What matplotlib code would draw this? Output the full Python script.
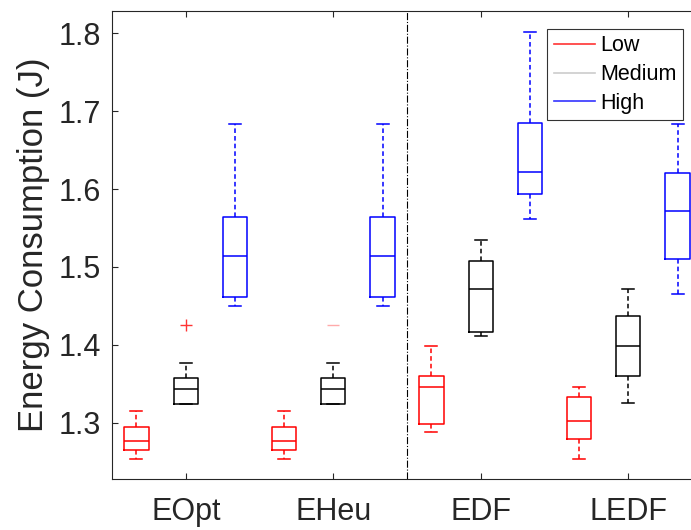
import matplotlib.pyplot as plt
from matplotlib.lines import Line2D

plt.rcParams['font.family'] = ['Liberation Sans', 'DejaVu Sans']

# data
algorithms = ['EOpt', 'EHeu', 'EDF', 'LEDF']
levels = ['Low', 'Medium', 'High']
level_colors = ['#ff0000', '#000000', '#0000ff']
legend_colors = ['#ff3333', '#cccccc', '#3333ff']

# (whislo, q1, med, q3, whishi) per algorithm
low_stats = [
    (1.254, 1.265, 1.277, 1.295, 1.315),
    (1.254, 1.265, 1.277, 1.295, 1.315),
    (1.288, 1.298, 1.346, 1.360, 1.398),
    (1.254, 1.279, 1.302, 1.333, 1.346),
]
medium_stats = [
    (1.324, 1.324, 1.343, 1.358, 1.377),
    (1.324, 1.324, 1.343, 1.358, 1.377),
    (1.411, 1.416, 1.472, 1.508, 1.534),
    (1.325, 1.360, 1.398, 1.437, 1.472),
]
high_stats = [
    (1.450, 1.461, 1.514, 1.564, 1.683),
    (1.450, 1.461, 1.514, 1.564, 1.683),
    (1.562, 1.594, 1.622, 1.685, 1.802),
    (1.465, 1.510, 1.572, 1.621, 1.683),
]
medium_outliers = [[1.426], [1.426], [], []]

fig = plt.figure(figsize=(6.91, 5.3), dpi=100)
ax = fig.add_axes([112 / 691, (530 - 479.3) / 530, 590 / 691, 468.3 / 530])

offsets = [-0.335, 0.0, 0.335]
all_stats = [low_stats, medium_stats, high_stats]
for k, (stats, color) in enumerate(zip(all_stats, level_colors)):
    bxp_stats = []
    for i, (lo, q1, med, q3, hi) in enumerate(stats):
        fl = medium_outliers[i] if k == 1 else []
        bxp_stats.append(dict(whislo=lo, q1=q1, med=med, q3=q3, whishi=hi, fliers=fl))
    pos = [i + 1 + offsets[k] for i in range(len(algorithms))]
    res = ax.bxp(bxp_stats, positions=pos, widths=0.166, showfliers=True,
                 boxprops=dict(color=color, linewidth=1.1),
                 medianprops=dict(color=color, linewidth=1.1),
                 whiskerprops=dict(color=color, linewidth=1.1, linestyle=(0, (3, 2))),
                 capprops=dict(color=color, linewidth=1.1),
                 flierprops=dict(marker='+', markeredgecolor='#ff3333', markersize=9))
    if k == 1:
        # second outlier is drawn only as a faint dash in the original
        res['fliers'][1].set_marker('_')
        res['fliers'][1].set_markeredgecolor('#ffaaaa')

ax.axvline(2.5, color='black', linestyle='-.', linewidth=0.8)

ax.set_xlim(0.5, 4.5)
ax.set_ylim(1.2273, 1.8286)
ax.set_xticks(range(1, 5))
ax.set_xticklabels(algorithms)
ax.set_yticks([1.3, 1.4, 1.5, 1.6, 1.7, 1.8])
ax.set_yticklabels(['1.3', '1.4', '1.5', '1.6', '1.7', '1.8'])
ax.tick_params(direction='in', top=True, labelsize=22, colors='#262626', length=4.5)
ax.tick_params(axis='x', pad=13)
ax.tick_params(axis='y', pad=8)
ax.set_ylabel('Energy Consumption (J)', fontsize=25, color='#262626', labelpad=6)
for s in ax.spines.values():
    s.set_color('#262626')
    s.set_linewidth(0.8)

handles = [Line2D([], [], color=c, linewidth=1.2) for c in legend_colors]
leg = ax.legend(handles, levels, loc='upper right', bbox_to_anchor=(0.9678, 0.9616),
                borderaxespad=0, fontsize=15.5, frameon=True, fancybox=False,
                edgecolor='black', handlelength=1.9, handletextpad=0.25,
                labelspacing=0.36, borderpad=0.3)
leg.get_frame().set_linewidth(0.8)

fig.savefig('out.png', dpi=100)
